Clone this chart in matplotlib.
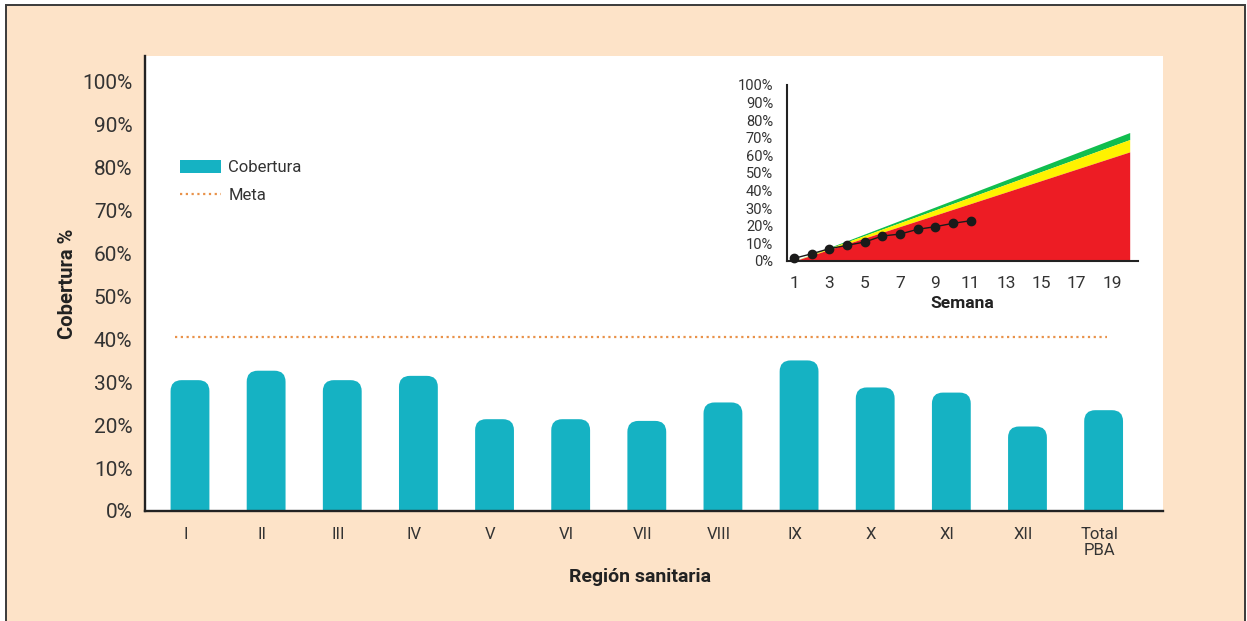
import matplotlib
matplotlib.use("Agg")
import matplotlib.pyplot as plt
import matplotlib.transforms as mtransforms
from matplotlib.patches import FancyBboxPatch, Patch, Rectangle
from matplotlib.lines import Line2D
from matplotlib.ticker import FixedLocator, FuncFormatter

plt.rcParams["font.family"] = ["Roboto", "DejaVu Sans"]

# Coverage by health region (%)
regions = ["I", "II", "III", "IV", "V", "VI", "VII", "VIII", "IX", "X", "XI", "XII", "Total\nPBA"]
coverage = [30.5, 32.7, 30.5, 31.5, 21.4, 21.4, 21.0, 25.3, 35.1, 28.8, 27.6, 19.7, 23.5]
goal = 40.6

# Inset: weekly progress against the expected thresholds
threshold_weeks = [1, 20]
red_top = [0, 62.0]
yellow_top = [0, 69.0]
green_top = [0, 73.0]
weeks = [1, 2, 3, 4, 5, 6, 7, 8, 9, 10, 11]
weekly_coverage = [1.5, 4.1, 7.0, 8.9, 10.8, 14.2, 15.3, 18.0, 19.5, 21.4, 22.9]
week_ticks = [1, 3, 5, 7, 9, 11, 13, 15, 17, 19]

TEAL = "#15B2C3"
ORANGE = "#E9924A"
PEACH = "#FDE3C8"
DARK = "#222222"
TEXT = "#333333"

W, H = 1247, 621
fig = plt.figure(figsize=(W / 100, H / 100), dpi=100, facecolor="white")

# peach card with a thin dark frame
fig.patches.append(Rectangle((6 / W, -0.01), (1245 - 6) / W, (H - 5) / H + 0.01,
                             transform=fig.transFigure, facecolor=PEACH,
                             edgecolor="#3a3a3a", linewidth=1.4, zorder=-10))

# ---------- main bar chart ----------
ax = fig.add_axes([145 / W, (H - 511) / H, (1163 - 145) / W, (511 - 56) / H])
ax.set_facecolor("white")
ax.set_xlim(-0.591, 12.78)
ax.set_ylim(0, 106.06)

bar_w = 0.51
px_per_x = (1163 - 145) / (12.78 + 0.591)
px_per_y = (511 - 56) / 106.06
radius_px = 11
rx = radius_px / px_per_x
ry = radius_px / px_per_y
for i, v in enumerate(coverage):
    ax.add_patch(FancyBboxPatch((i - bar_w / 2, -2 * ry), bar_w, v + 2 * ry,
                                boxstyle=f"round,pad=0,rounding_size={rx}",
                                mutation_aspect=ry / rx,
                                facecolor=TEAL, edgecolor="none", zorder=2))

ax.plot([-0.2, 12.05], [goal, goal], color=ORANGE, linewidth=1.6,
        linestyle=(0, (1, 1.6)), zorder=3)

for s in ["top", "right"]:
    ax.spines[s].set_visible(False)
for s in ["left", "bottom"]:
    ax.spines[s].set_color(DARK)
    ax.spines[s].set_linewidth(1.7)

ax.set_xticks(range(len(regions)))
ax.set_xticklabels(regions, fontsize=12, color=TEXT, linespacing=1.1)
ax.yaxis.set_major_locator(FixedLocator(range(0, 101, 10)))
ax.yaxis.set_major_formatter(FuncFormatter(lambda v, p: f"{int(v)}%"))
ax.tick_params(axis="y", length=0, pad=9, labelsize=15, labelcolor=TEXT)
ax.tick_params(axis="x", length=0, pad=11.5, labelcolor=TEXT)
shift = mtransforms.ScaledTranslation(-4 / 100, 0, fig.dpi_scale_trans)
for lbl in ax.get_xticklabels():
    lbl.set_verticalalignment("top")
    lbl.set_transform(lbl.get_transform() + shift)

ax.set_ylabel("Cobertura %", fontsize=14.5, fontweight="bold", color=DARK, labelpad=4)
ax.set_xlabel("Región sanitaria", fontsize=14, fontweight="bold", color=DARK, labelpad=7)
ax.xaxis.label.set_x((640 - 145) / (1163 - 145))

handles = [Patch(facecolor=TEAL, edgecolor="none", label="Cobertura"),
           Line2D([], [], color=ORANGE, linewidth=1.6, linestyle=(0, (1, 1.6)), label="Meta")]
ax.legend(handles=handles, loc="upper left", bbox_to_anchor=(0.026, 0.789),
          frameon=False, fontsize=12, handlelength=2.5, handleheight=0.75,
          handletextpad=0.4, labelspacing=0.73, borderpad=0, labelcolor=TEXT)

# ---------- inset: weekly progress ----------
ins = fig.add_axes([787 / W, (H - 261) / H, (1138 - 787) / W, (261 - 85) / H])
ins.set_facecolor("none")
ins.set_xlim(0.604, 20.47)
ins.set_ylim(0, 100)
ins.fill_between(threshold_weeks, yellow_top, green_top, color="#10BE4E", linewidth=0)
ins.fill_between(threshold_weeks, red_top, yellow_top, color="#FFF200", linewidth=0)
ins.fill_between(threshold_weeks, 0, red_top, color="#ED1C24", linewidth=0)
ins.plot(weeks, weekly_coverage, color="#1a1a1a", linewidth=1.0, marker="o",
         markersize=6, zorder=4, clip_on=False)

for s in ["top", "right"]:
    ins.spines[s].set_visible(False)
for s in ["left", "bottom"]:
    ins.spines[s].set_color(DARK)
    ins.spines[s].set_linewidth(1.5)
ins.set_xticks(week_ticks)
ins.yaxis.set_major_locator(FixedLocator(range(0, 101, 10)))
ins.yaxis.set_major_formatter(FuncFormatter(lambda v, p: f"{int(v)}%"))
ins.tick_params(axis="y", length=0, pad=10, labelsize=10.5, labelcolor=TEXT)
ins.tick_params(axis="x", length=0, pad=10.5, labelsize=12.5, labelcolor=TEXT)
ins.set_xlabel("Semana", fontsize=12.5, fontweight="bold", color=DARK, labelpad=4)

fig.savefig("out.png", dpi=100, facecolor="white")
